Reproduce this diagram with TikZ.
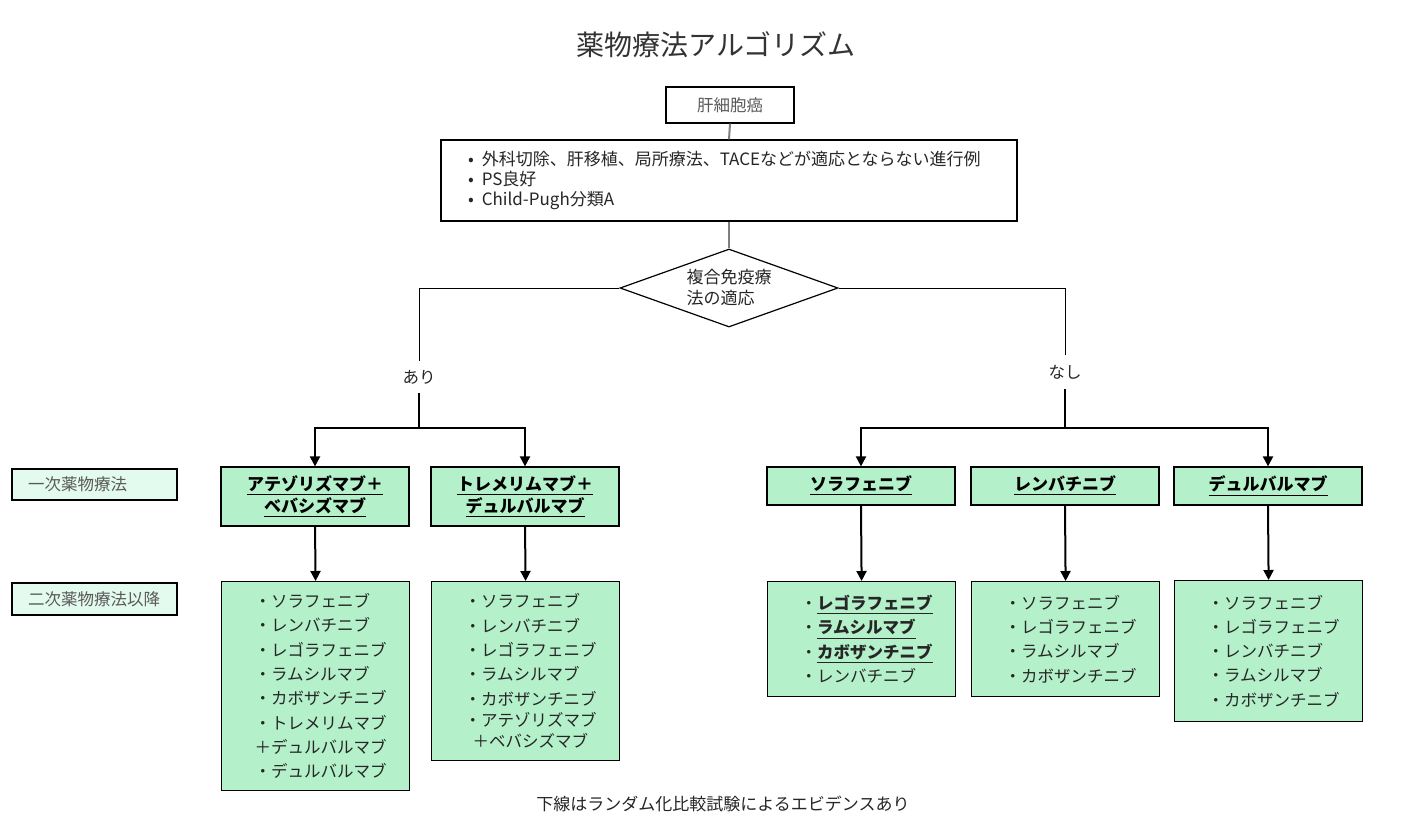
\documentclass[tikz,border=0pt]{standalone}
\usepackage{fontspec}
\setmainfont{Noto Sans CJK JP}
\usetikzlibrary{shapes.geometric,arrows.meta}
\definecolor{grn}{HTML}{B4F0CA}
\definecolor{lgrn}{HTML}{E3FAEE}
\definecolor{txt}{HTML}{262626}
\definecolor{gtxt}{HTML}{595959}
\definecolor{ttl}{HTML}{333333}
\definecolor{conn}{HTML}{7F7F7F}
\newcommand{\udl}[1]{\underline{#1}}
\newcommand{\lpad}{\leftskip=16.5pt\relax}
\begin{document}
\begin{tikzpicture}[x=0.5pt,y=-0.5pt,
  every node/.style={font=\fontsize{8.25}{12.15}\selectfont, text=txt},
  plain/.style={draw=black, line width=0.6pt, fill=white},
  firstbox/.style={draw=black, line width=0.6pt, fill=grn, minimum width=94pt, inner sep=0pt,
    align=center, font=\bfseries\fontsize{8.5}{10}\selectfont, text=black},
  secbox/.style={draw=black, line width=0.6pt, fill=grn, anchor=north west, text width=94pt,
    inner xsep=0pt, inner ysep=0pt, align=left},
  lblbox/.style={draw=black, line width=0.6pt, fill=lgrn, minimum width=82.5pt, text width=66.5pt,
    inner xsep=8pt, inner ysep=0pt, align=left, text=gtxt},
  arr/.style={draw=black, line width=1pt, -{Triangle[length=5pt,width=5pt]}},
  thinl/.style={draw=black, line width=0.5pt},
  gline/.style={draw=conn, line width=1pt}]
\fill[white] (0,0) rectangle (1408,826);
\useasboundingbox (0,0) rectangle (1408,826);

\node[font=\fontsize{14}{16}\selectfont, text=ttl] (title) at (716,45) {薬物療法アルゴリズム};
\node[plain, minimum width=64pt, minimum height=18pt, inner sep=0pt, text=gtxt] (hcc) at (730,105) {肝細胞癌};
\node[plain, minimum height=40.5pt, text width=261pt, inner xsep=13.5pt, inner ysep=0pt, align=left,
  font=\fontsize{8.5}{10}\selectfont] (cond) at (729,180.5)
  {•\hspace{4pt}外科切除、肝移植、局所療法、TACEなどが適応とならない進行例\\•\hspace{4pt}PS良好\\•\hspace{4pt}Child-Pugh分類A};
\node[draw=black, line width=0.6pt, shape=diamond, aspect=2.8, minimum width=109pt, minimum height=39pt,
  inner sep=0pt, align=left, font=\fontsize{8.5}{10.5}\selectfont] (dia) at (729,288) {複合免疫療\\法の適応};

\draw[gline] (hcc.south) -- (cond.north);
\draw[gline] (cond.south) -- (dia.north);

\node[minimum height=16pt, inner sep=0pt] (ari) at (419,377) {あり};
\node[minimum height=17pt, inner sep=0pt] (nashi) at (1065,372) {なし};

\node[firstbox, minimum height=29.5pt] (fa) at (315,496.5) {\udl{アテゾリズマブ＋}\\\udl{ベバシズマブ}};
\node[firstbox, minimum height=29.5pt] (fb) at (525,496.5) {\udl{トレメリムマブ＋}\\\udl{デュルバルマブ}};
\node[firstbox, minimum height=19pt] (fc) at (861,486) {\udl{ソラフェニブ}};
\node[firstbox, minimum height=19pt] (fd) at (1065,486) {\udl{レンバチニブ}};
\node[firstbox, minimum height=19pt] (fe) at (1268,486) {\udl{デュルバルマブ}};

\node[secbox, minimum height=104.5pt] (sa) at (221,581)
  {\lpad ・ソラフェニブ\\・レンバチニブ\\・レゴラフェニブ\\・ラムシルマブ\\・カボザンチニブ\\・トレメリムマブ\\＋デュルバルマブ\\・デュルバルマブ\par};
\node[secbox, minimum height=89.5pt] (sb) at (431,581)
  {\lpad ・ソラフェニブ\\・レンバチニブ\\・レゴラフェニブ\\・ラムシルマブ\\・カボザンチニブ\\[-1.5pt]・アテゾリズマブ\\[-1.5pt]\hspace*{4pt}＋ベバシズマブ\par};
\node[secbox, minimum height=57.5pt] (sc) at (767,581)
  {\lpad ・\udl{\textbf{レゴラフェニブ}}\\・\udl{\textbf{ラムシルマブ}}\\・\udl{\textbf{カボザンチニブ}}\\・レンバチニブ\par};
\node[secbox, minimum height=57.5pt] (sd) at (971,581)
  {\lpad ・ソラフェニブ\\・レゴラフェニブ\\・ラムシルマブ\\・カボザンチニブ\par};
\node[secbox, minimum height=70.5pt] (se) at (1174,580)
  {\lpad ・ソラフェニブ\\・レゴラフェニブ\\・レンバチニブ\\・ラムシルマブ\\・カボザンチニブ\par};

\node[lblbox, minimum height=15.5pt] (l1) at (94.5,484.5) {一次薬物療法};
\node[lblbox, minimum height=16pt] (l2) at (94.5,599) {二次薬物療法以降};

\node[font=\fontsize{8.5}{10}\selectfont] (foot) at (723,804) {下線はランダム化比較試験によるエビデンスあり};

\draw[thinl] (dia.west) -| (ari.north);
\draw[thinl] (dia.east) -| (nashi.north);
\coordinate (jl) at (419,428);
\coordinate (jr) at (1065,428);
\draw[arr] (ari.south) -- (jl) -| (fa.north);
\draw[arr] (jl) -| (fb.north);
\draw[arr] (nashi.south) -- (jr) -| (fc.north);
\draw[arr] (jr) -| (fe.north);

\draw[arr] (fa.south) -- (sa.north);
\draw[arr] (fb.south) -- (sb.north);
\draw[arr] (fc.south) -- (sc.north);
\draw[arr] (fd.south) -- (sd.north);
\draw[arr] (fe.south) -- (se.north);
\end{tikzpicture}
\end{document}
